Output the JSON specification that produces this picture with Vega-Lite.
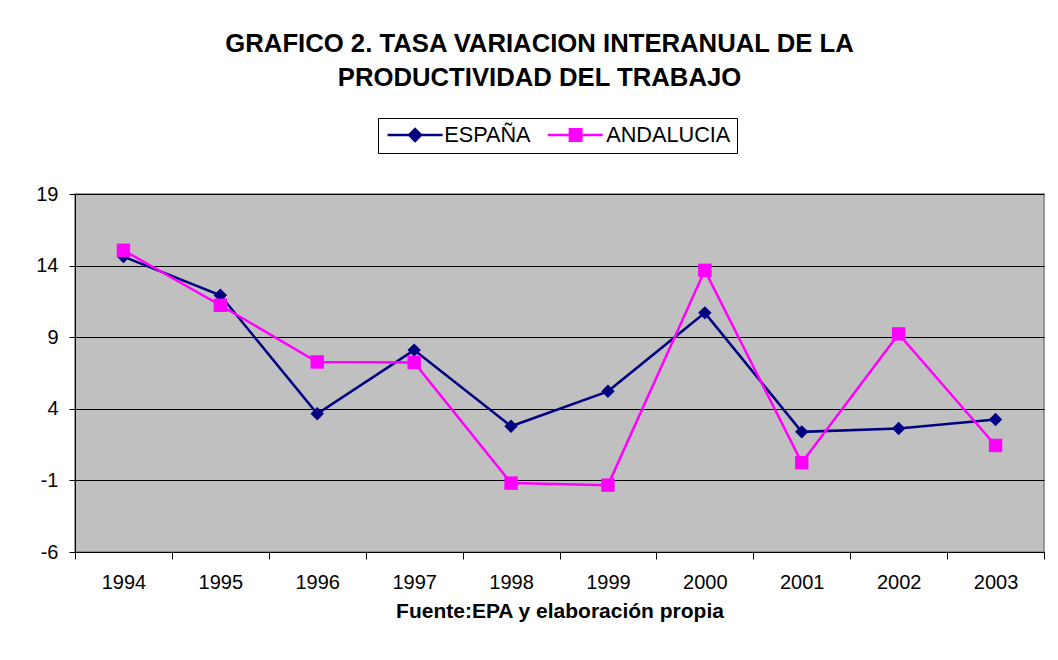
{
  "$schema": "https://vega.github.io/schema/vega-lite/v6.json",
  "width": 969,
  "height": 358,
  "autosize": {"type": "none"},
  "padding": {"left": 75, "top": 194, "right": 14, "bottom": 108},
  "background": "white",
  "config": {
    "font": "Liberation Sans",
    "view": {"fill": "#C0C0C0", "stroke": "#808080", "strokeWidth": 1.5}
  },
  "title": {
    "text": ["GRAFICO 2. TASA VARIACION INTERANUAL DE LA", "PRODUCTIVIDAD DEL TRABAJO"],
    "fontSize": 25.7,
    "fontWeight": "bold",
    "font": "Liberation Sans",
    "color": "black",
    "anchor": "middle",
    "frame": "group",
    "dx": -20,
    "offset": 26,
    "lineHeight": 34
  },
  "data": {
    "values": [
      {"year": "1994", "serie": "ESPAÑA", "value": 14.63},
      {"year": "1995", "serie": "ESPAÑA", "value": 11.93},
      {"year": "1996", "serie": "ESPAÑA", "value": 3.65},
      {"year": "1997", "serie": "ESPAÑA", "value": 8.1},
      {"year": "1998", "serie": "ESPAÑA", "value": 2.78},
      {"year": "1999", "serie": "ESPAÑA", "value": 5.22},
      {"year": "2000", "serie": "ESPAÑA", "value": 10.7},
      {"year": "2001", "serie": "ESPAÑA", "value": 2.39},
      {"year": "2002", "serie": "ESPAÑA", "value": 2.62},
      {"year": "2003", "serie": "ESPAÑA", "value": 3.25},
      {"year": "1994", "serie": "ANDALUCIA", "value": 15.07},
      {"year": "1995", "serie": "ANDALUCIA", "value": 11.23},
      {"year": "1996", "serie": "ANDALUCIA", "value": 7.27},
      {"year": "1997", "serie": "ANDALUCIA", "value": 7.24},
      {"year": "1998", "serie": "ANDALUCIA", "value": -1.19},
      {"year": "1999", "serie": "ANDALUCIA", "value": -1.33},
      {"year": "2000", "serie": "ANDALUCIA", "value": 13.67},
      {"year": "2001", "serie": "ANDALUCIA", "value": 0.24},
      {"year": "2002", "serie": "ANDALUCIA", "value": 9.23},
      {"year": "2003", "serie": "ANDALUCIA", "value": 1.44}
    ]
  },
  "encoding": {
    "x": {
      "field": "year",
      "type": "ordinal",
      "scale": {"type": "band", "paddingInner": 0, "paddingOuter": 0},
      "axis": {
        "title": "Fuente:EPA y elaboración propia",
        "titleFont": "Liberation Sans",
        "titleFontSize": 21,
        "titleFontWeight": "bold",
        "titleColor": "black",
        "titlePadding": 8,
        "labelAngle": 0,
        "labelFont": "Liberation Sans",
        "labelFontSize": 20,
        "labelColor": "black",
        "labelPadding": 13,
        "tickBand": "extent",
        "tickSize": 7,
        "tickColor": "black",
        "domainColor": "black",
        "domainWidth": 1,
        "grid": false
      }
    },
    "y": {
      "field": "value",
      "type": "quantitative",
      "scale": {"domain": [-6, 19], "nice": false, "zero": false},
      "axis": {
        "title": null,
        "values": [-6, -1, 4, 9, 14, 19],
        "labelExpr": "'' + datum.value",
        "grid": true,
        "gridColor": "black",
        "gridWidth": 1,
        "gridOpacity": 1,
        "tickSize": 6,
        "tickColor": "black",
        "domainColor": "black",
        "labelFont": "Liberation Sans",
        "labelFontSize": 20,
        "labelColor": "black",
        "labelPadding": 11
      }
    },
    "color": {
      "field": "serie",
      "type": "nominal",
      "scale": {"domain": ["ESPAÑA", "ANDALUCIA"], "range": ["#000080", "#FF00FF"]},
      "legend": {
        "title": null,
        "orient": "none",
        "legendX": 303,
        "legendY": -76,
        "direction": "horizontal",
        "columns": 2,
        "gridAlign": "each",
        "strokeColor": "black",
        "fillColor": "white",
        "padding": 6,
        "labelFont": "Liberation Sans",
        "labelFontSize": 21.7,
        "labelColor": "black",
        "labelExpr": "datum.value === 'ANDALUCIA' ? datum.label + '\u00a0\u00a0' : datum.label",
        "symbolSize": 196,
        "symbolStrokeWidth": 2.5,
        "labelOffset": 38.5,
        "columnPadding": 11,
        "encode": {
          "symbols": {
            "update": {
              "shape": {"signal": "datum.value === 'ESPAÑA' ? 'M-1.04,0H6.82M2.89,-0.85L3.74,0L2.89,0.85L2.04,0Z' : 'M-1.3,0H6.56M1.86,-0.82H3.5V0.82H1.86Z'"},
              "fill": {"signal": "datum.value === 'ESPAÑA' ? '#000080' : '#FF00FF'"},
              "stroke": {"signal": "datum.value === 'ESPAÑA' ? '#000080' : '#FF00FF'"},
              "strokeWidth": {"value": 2.5},
              "opacity": {"value": 1},
              "fillOpacity": {"value": 1}
            }
          }
        }
      }
    }
  },
  "layer": [
    {"mark": {"type": "line", "strokeWidth": 2.5}},
    {
      "transform": [{"filter": "datum.serie === 'ESPAÑA'"}],
      "mark": {"type": "point", "shape": "diamond", "filled": true, "size": 180, "opacity": 1}
    },
    {
      "transform": [{"filter": "datum.serie === 'ANDALUCIA'"}],
      "mark": {"type": "point", "shape": "square", "filled": true, "size": 180, "opacity": 1}
    }
  ]
}
